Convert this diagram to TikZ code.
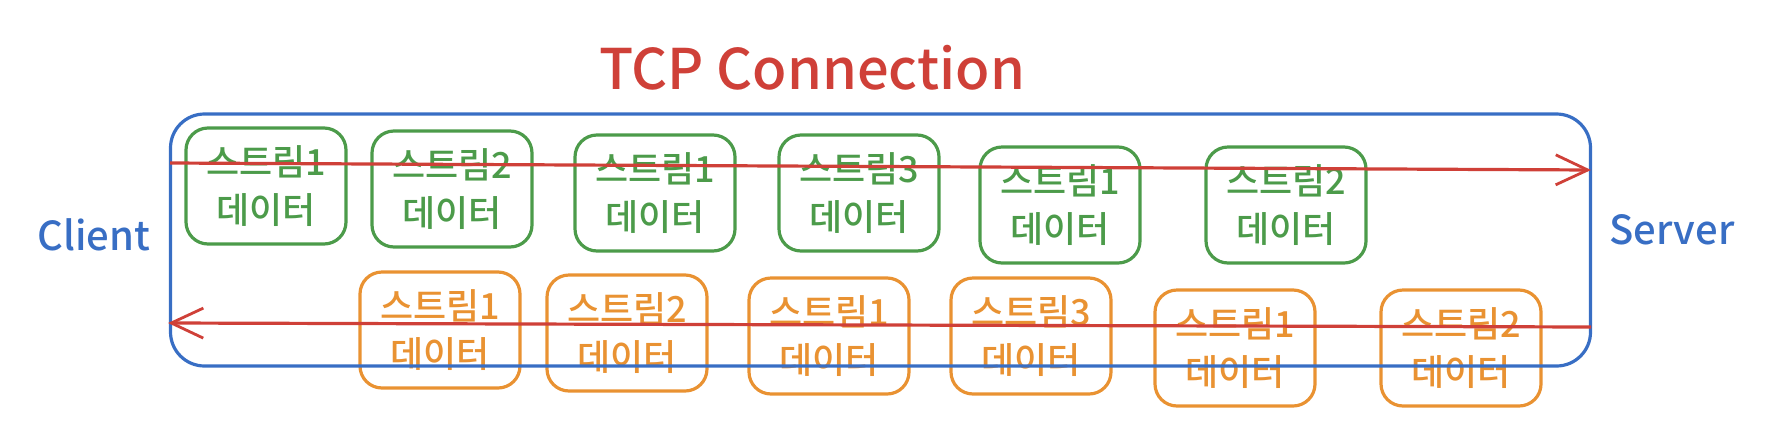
\documentclass[tikz,border=0pt]{standalone}
\usepackage{fontspec}
\setmainfont{Noto Sans CJK KR}[UprightFont=* Medium]
\usetikzlibrary{arrows.meta, positioning}
\definecolor{tcpred}{RGB}{207,64,56}
\definecolor{tcpblue}{RGB}{56,110,196}
\definecolor{strgreen}{RGB}{76,155,74}
\definecolor{strorange}{RGB}{233,146,50}
\tikzset{
  str box/.style={
    rectangle, rounded corners=11pt, line width=1.6pt,
    minimum width=80pt, minimum height=58pt, inner sep=1pt,
    align=center, font=\fontsize{18pt}{24pt}\selectfont
  },
  str up/.style={str box, draw=strgreen, text=strgreen},
  str down/.style={str box, draw=strorange, text=strorange},
  conn box/.style={
    rectangle, rounded corners=17pt, draw=tcpblue, line width=1.6pt,
    minimum width=710pt, minimum height=126pt
  },
  flow arrow/.style={
    -{Straight Barb[length=16pt, width=15pt, line width=1.4pt]},
    draw=tcpred, line width=1.6pt
  },
  end label/.style={text=tcpblue, font=\fontsize{20pt}{24pt}\selectfont}
}

\begin{document}
\begin{tikzpicture}[x=0.5pt, y=-0.5pt]
  \useasboundingbox (0,0) rectangle (1782,440);

  \node (title) at (812,68) [text=tcpred, font=\fontsize{28pt}{32pt}\selectfont] {TCP Connection};
  \node (client) at (94,235) [end label] {Client};
  \node (server) at (1672,230) [end label] {Server};

  % client -> server
  \node (up1) at (266,186) [str up] {스트림1\\데이터};
  \node (up2) at (452,189) [str up] {스트림2\\데이터};
  \node (up3) at (655,193) [str up] {스트림1\\데이터};
  \node (up4) at (859,193) [str up] {스트림3\\데이터};
  \node (up5) at (1060,205) [str up] {스트림1\\데이터};
  \node (up6) at (1286,205) [str up] {스트림2\\데이터};

  % server -> client
  \node (down1) at (440,330) [str down] {스트림1\\데이터};
  \node (down2) at (627,333) [str down] {스트림2\\데이터};
  \node (down3) at (829,336) [str down] {스트림1\\데이터};
  \node (down4) at (1031,336) [str down] {스트림3\\데이터};
  \node (down5) at (1235,348) [str down] {스트림1\\데이터};
  \node (down6) at (1461,348) [str down] {스트림2\\데이터};

  \node (conn) at (880.5,240) [conn box] {};

  \coordinate (upstart) at (170,163);
  \coordinate (upend) at (1591,170);
  \coordinate (downstart) at (1591,327);
  \coordinate (downend) at (168,323);

  \draw [flow arrow] (upstart) -- (upend);
  \draw [flow arrow] (downstart) -- (downend);
\end{tikzpicture}
\end{document}
